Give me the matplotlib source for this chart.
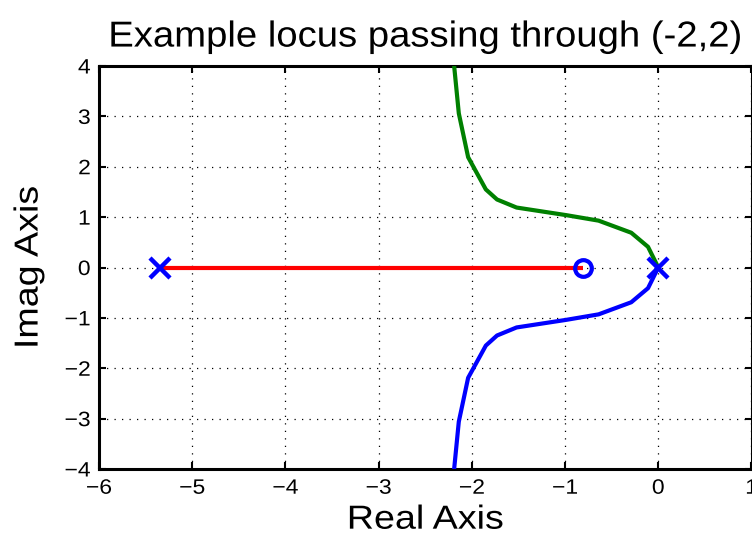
import matplotlib
matplotlib.use("Agg")
import matplotlib.pyplot as plt
from matplotlib.patheffects import AbstractPathEffect
from matplotlib.transforms import Affine2D

plt.rcParams['font.family'] = ['Liberation Sans', 'DejaVu Sans']

# Open-loop poles and zero
poles = [-5.35, 0.0]
zeros = [-0.81]

# Real-axis segment between the left pole and the zero
real_seg_x = [-5.35, -0.81]

# Upper complex branch (the lower one is its conjugate)
branch_re = [0.0, -0.11, -0.29, -0.64, -0.99, -1.52, -1.73, -1.85, -2.04, -2.14, -2.19, -2.21]
branch_im = [0.0, 0.41, 0.69, 0.93, 1.04, 1.19, 1.35, 1.55, 2.19, 3.06, 4.0, 4.6]

x_ticks = [-6, -5, -4, -3, -2, -1, 0, 1]
y_ticks = [-4, -3, -2, -1, 0, 1, 2, 3, 4]


class Widen(AbstractPathEffect):
    """Stretch glyphs along the text direction, keeping an anchor fixed."""

    def __init__(self, sx, anchor='center'):
        super().__init__()
        self.sx = sx
        self.anchor = anchor

    def draw_path(self, renderer, gc, tpath, affine, rgbFace=None):
        v = tpath.vertices
        if len(v):
            lo, hi = v[:, 0].min(), v[:, 0].max()
            cx = {'center': 0.5 * (lo + hi), 'left': lo, 'right': hi}[self.anchor]
            affine = Affine2D().translate(-cx, 0).scale(self.sx, 1).translate(cx, 0) + affine
        renderer.draw_path(gc, tpath, affine, rgbFace)


def fmt(t):
    return str(t).replace('-', '\u2212')


fig = plt.figure(figsize=(7.52, 5.35), dpi=100)
ax = fig.add_axes([99 / 752, (535 - 469) / 535, (751.5 - 99) / 752, (469 - 66) / 535])

ax.plot(real_seg_x, [0, 0], color=(1, 0, 0), lw=3, solid_capstyle='butt', zorder=3)
ax.plot(branch_re, branch_im, color=(0, 0.5, 0), lw=3, zorder=3)
ax.plot(branch_re, [-v for v in branch_im], color=(0, 0, 1), lw=3, zorder=3)

ax.plot(poles, [0] * len(poles), linestyle='none', marker='x', ms=15, mew=3.2,
        color=(0, 0, 1), zorder=4, clip_on=False)
ax.plot(zeros, [0] * len(zeros), linestyle='none', marker='o', ms=12, mew=3,
        mfc='none', mec=(0, 0, 1), zorder=4)

ax.set_xlim(-6, 1)
ax.set_ylim(-4, 4)
ax.set_xticks(x_ticks)
ax.set_yticks(y_ticks)
ax.set_xticklabels([fmt(t) for t in x_ticks])
ax.set_yticklabels([fmt(t) for t in y_ticks])

ax.grid(True, color='black', linestyle=(0, (1, 5)), linewidth=0.9)
ax.tick_params(direction='in', length=5, width=1.5, top=True, right=True,
               labelsize=15, colors='black')
ax.tick_params(axis='x', pad=7)
ax.tick_params(axis='y', pad=6)
for s in ax.spines.values():
    s.set_linewidth(2.2)

for lbl in ax.get_xticklabels():
    lbl.set_path_effects([Widen(1.1, 'center')])
for lbl in ax.get_yticklabels():
    lbl.set_path_effects([Widen(1.1, 'right')])

title = ax.set_title('Example locus passing through (-2,2)', fontsize=26, pad=14)
title.set_path_effects([Widen(1.06)])
xl = ax.set_xlabel('Real Axis', fontsize=24, labelpad=5)
xl.set_path_effects([Widen(1.13)])
yl = ax.set_ylabel('Imag Axis', fontsize=24, labelpad=16)
yl.set_path_effects([Widen(1.13)])

fig.savefig('out.png', dpi=100)
